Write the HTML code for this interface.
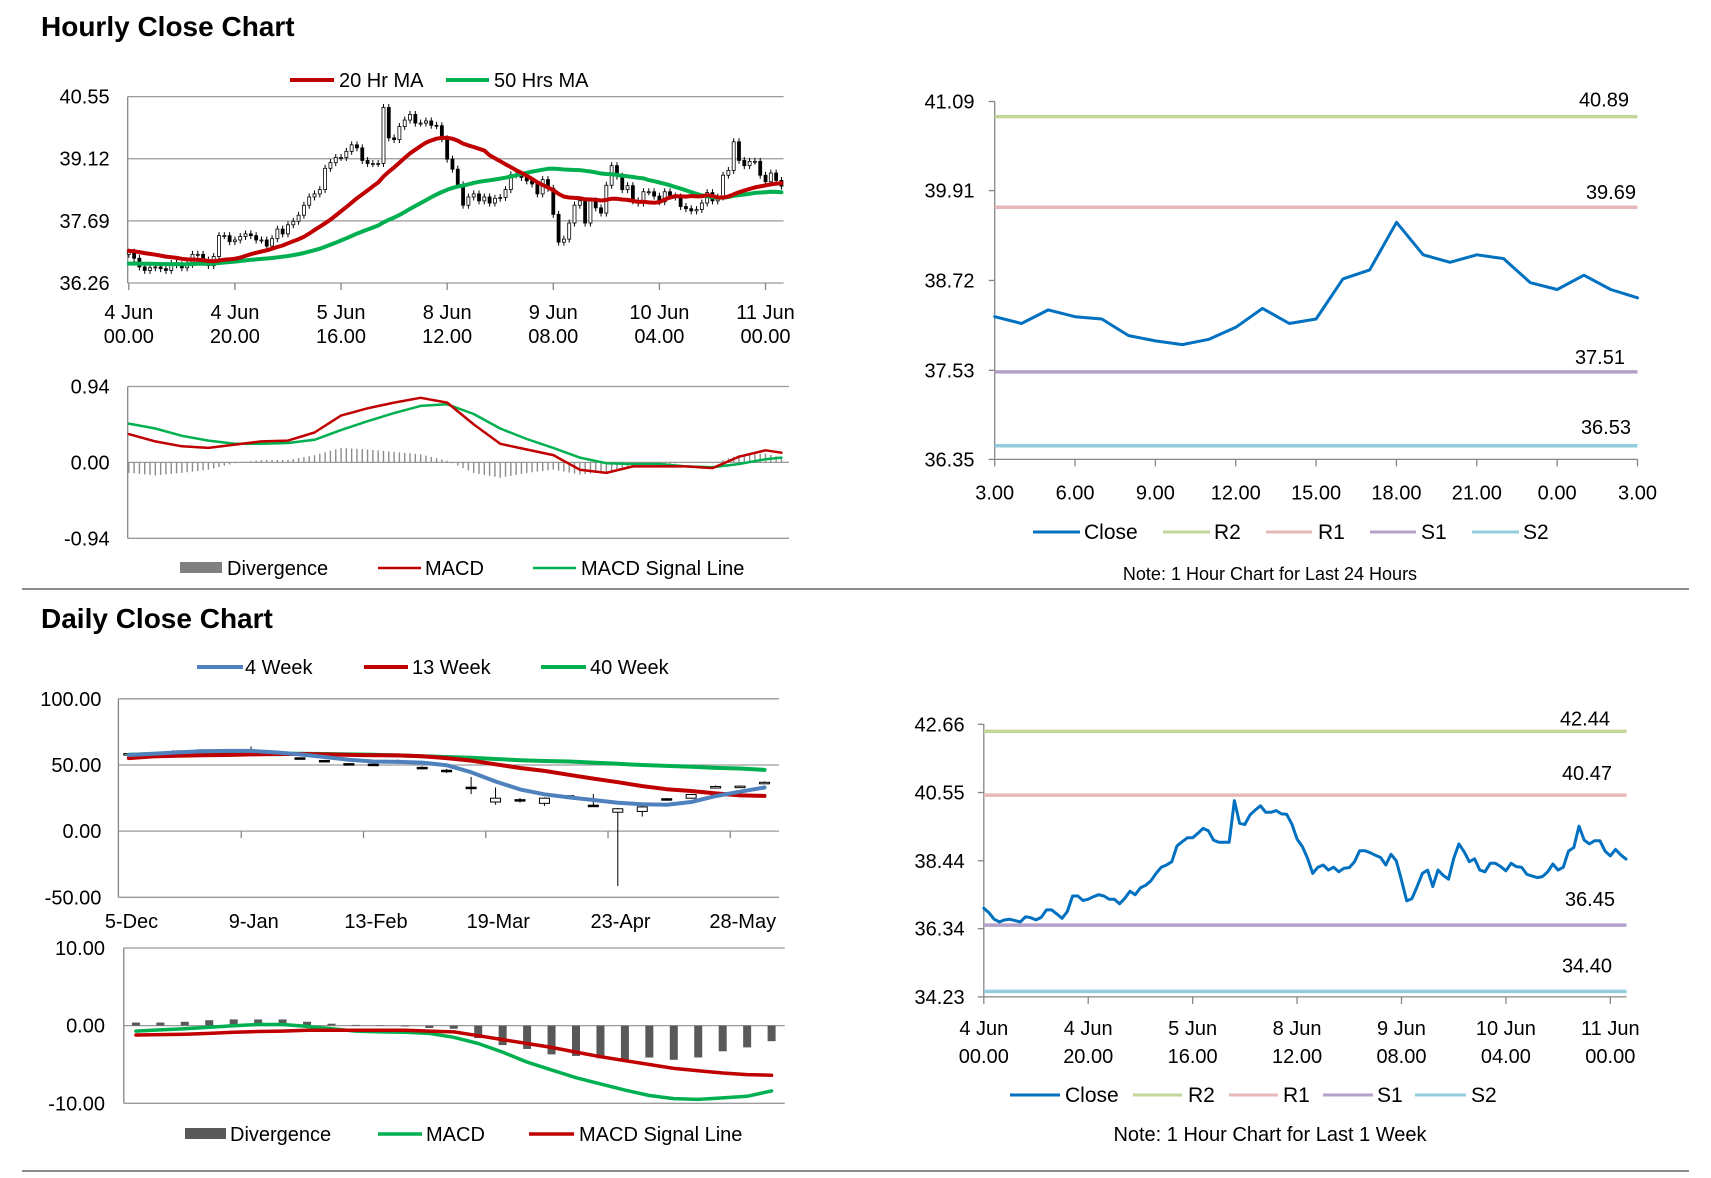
<!DOCTYPE html>
<html><head><meta charset="utf-8"><style>
html,body{margin:0;padding:0;background:#fff;}
svg{display:block;font-family:"Liberation Sans",Arial,sans-serif;}
text{fill:#000;}
</style></head><body>
<svg id="s" width="1711" height="1178" viewBox="0 0 1711 1178" xmlns="http://www.w3.org/2000/svg">
<text x="41" y="36" font-size="28" font-weight="bold">Hourly Close Chart</text>
<text x="41" y="628" font-size="28" font-weight="bold">Daily Close Chart</text>
<line x1="22" y1="589" x2="1689" y2="589" stroke="#8c8c8c" stroke-width="2"/>
<line x1="22" y1="1171" x2="1689" y2="1171" stroke="#8c8c8c" stroke-width="2"/>
</svg>
<script>
// ---------- DATA ----------
const hourCloses=[36.97,36.83,36.63,36.55,36.61,36.63,36.59,36.55,36.71,36.68,36.61,36.69,36.92,36.92,36.79,36.66,36.87,37.35,37.35,37.21,
37.25,37.33,37.39,37.35,37.25,37.25,37.11,37.28,37.50,37.39,37.60,37.68,37.82,38.05,38.24,38.31,38.41,38.90,39.03,39.15,
39.15,39.29,39.44,39.37,39.08,39.01,39.01,39.01,40.30,39.60,39.56,39.86,40.01,40.14,39.94,39.94,39.99,39.89,39.88,39.58,
39.11,38.88,38.52,38.05,38.24,38.31,38.15,38.24,38.10,38.21,38.23,38.41,38.75,38.75,38.69,38.61,38.54,38.31,38.64,38.44,
37.84,37.20,37.27,37.64,38.05,38.15,37.64,38.15,37.99,37.87,38.51,38.96,38.72,38.41,38.50,38.15,38.10,38.36,38.36,38.26,
38.13,38.36,38.26,38.24,38.02,37.97,37.92,37.95,38.10,38.34,38.15,38.24,38.74,38.85,39.51,39.08,38.96,39.06,39.06,38.74,
38.59,38.79,38.62,38.49];
const hourTickLabels=[["4 Jun","00.00"],["4 Jun","20.00"],["5 Jun","16.00"],["8 Jun","12.00"],["9 Jun","08.00"],["10 Jun","04.00"],["11 Jun","00.00"]];
const hourTickIdx=[0,20,40,60,80,100,120];
const hourYTicks=[40.55,39.12,37.69,36.26];
const prior20=37.0, prior50=36.7;
const macdHours=[0,5,10,15,20,25,30,35,40,45,50,55,60,65,70,75,80,85,90,95,100,105,110,115,120,123];
const macdVals=[0.35,0.26,0.20,0.18,0.22,0.26,0.27,0.37,0.58,0.67,0.74,0.80,0.74,0.47,0.23,0.16,0.09,-0.09,-0.13,-0.05,-0.05,-0.05,-0.07,0.07,0.15,0.12];
const signalVals=[0.48,0.42,0.33,0.27,0.23,0.23,0.24,0.28,0.40,0.51,0.61,0.70,0.72,0.60,0.42,0.29,0.18,0.06,-0.01,-0.02,-0.02,-0.05,-0.06,-0.02,0.04,0.06];
const macdYTicks=[0.94,0.00,-0.94];
const dayHours=["3.00","6.00","9.00","12.00","15.00","18.00","21.00","0.00","3.00"];
const last24=[38.24,38.15,38.33,38.24,38.21,37.99,37.92,37.87,37.94,38.10,38.35,38.15,38.21,38.74,38.86,39.49,39.06,38.96,39.06,39.01,38.69,38.60,38.79,38.60,38.49];
const levels24=[40.89,39.69,37.51,36.53];
const yTicks24=[41.09,39.91,38.72,37.53,36.35];
const levelsWeek=[42.44,40.47,36.45,34.40];
const yTicksWeek=[42.66,40.55,38.44,36.34,34.23];
const weekLabels=["5-Dec","9-Jan","13-Feb","19-Mar","23-Apr","28-May"];
const wOpen =[58.0,59.0,60.2,61.0,60.3,60.0,58.2,55.4,53.4,51.0,50.6,53.0,48.2,46.0,33.2,22.0,23.8,21.0,26.8,19.6,14.3,14.9,24.5,24.9,33.0,33.2,36.4];
const wClose=[58.6,59.4,60.6,61.4,60.0,59.6,58.0,54.9,52.9,50.6,50.3,53.4,47.7,45.7,32.6,24.9,23.4,24.9,26.3,19.1,16.9,18.3,24.0,27.7,33.7,34.0,36.9];
const wHigh =[59.0,59.8,61.0,61.8,61.0,64.0,58.6,55.8,53.8,51.4,51.0,54.0,49.0,47.0,41.0,33.0,25.0,25.5,27.0,28.0,17.5,19.0,25.0,28.2,34.6,34.6,37.6];
const wLow  =[58.0,58.8,60.0,60.8,59.6,59.0,57.6,54.4,52.4,50.2,49.8,52.8,46.6,44.0,28.0,20.0,21.5,19.0,25.6,18.6,-41.4,11.0,23.0,24.5,32.6,33.0,36.0];
const ma4 =[57.5,58.5,59.5,60.3,60.6,60.6,59.5,58,56,54,52.6,52.3,51.8,49.8,44.5,37.5,31.5,27.8,25.5,23.5,21.5,20.3,20,22,26.5,29.8,33];
const ma13=[55.2,56.5,57,57.3,57.5,58,58.3,58.3,58,57.6,57.4,57.2,56.6,55.2,53.3,50.5,47.7,45.5,42.6,39.7,37,34,31.7,30.3,28.5,27,26.6];
const ma40=[57.7,58.3,58.6,58.9,59,58.9,58.7,58.5,58.3,58,57.7,57.2,56.6,56,55.5,54.5,53.6,53,52.6,51.8,50.9,50,49.3,48.6,47.8,47.3,46.3];
const wYTicks=[100,50,0,-50];
const wDiv=[0.4,0.4,0.5,0.7,0.8,0.8,0.8,0.5,0.25,0.1,-0.05,-0.1,-0.3,-0.4,-1.6,-2.5,-3.0,-3.7,-3.9,-4.2,-4.6,-4.1,-4.4,-4.1,-3.3,-2.8,-2.0];
const wMacd=[-0.7,-0.55,-0.4,-0.2,0.0,0.15,0.15,-0.1,-0.4,-0.7,-0.8,-0.85,-1.0,-1.5,-2.3,-3.4,-4.7,-5.7,-6.7,-7.5,-8.3,-9.0,-9.4,-9.5,-9.3,-9.1,-8.4];
const wSignal=[-1.2,-1.15,-1.1,-1.0,-0.85,-0.75,-0.7,-0.6,-0.6,-0.6,-0.6,-0.6,-0.7,-0.8,-1.3,-1.8,-2.3,-2.8,-3.4,-4.0,-4.5,-5.0,-5.5,-5.8,-6.1,-6.3,-6.4];
const wMacdTicks=[10,0,-10];

// ---------- HELPERS ----------
const S=document.getElementById('s');const NS='http://www.w3.org/2000/svg';
function mk(tag,attrs,parent){const e=document.createElementNS(NS,tag);for(const k in attrs)e.setAttribute(k,attrs[k]);(parent||S).appendChild(e);return e;}
function txt(x,y,str,size,anchor,name){const t=mk('text',{x:x,y:y,'font-size':size,'text-anchor':anchor||'start'});t.textContent=str;


return t;}
function ln(x1,y1,x2,y2,col,w,name){const l=mk('line',{x1:x1,y1:y1,x2:x2,y2:y2,stroke:col,'stroke-width':w});


return l;}
function poly(pts,col,w,name){const p=mk('polyline',{points:pts.map(p=>p[0].toFixed(1)+','+p[1].toFixed(1)).join(' '),fill:'none',stroke:col,'stroke-width':w,'stroke-linejoin':'round','stroke-linecap':'round'});


return p;}
function lin(d0,d1,r0,r1){return v=>r0+(v-d0)/(d1-d0)*(r1-r0);}
function interp(xs,ys,x){for(let i=0;i<xs.length-1;i++){if(x<=xs[i+1]){const t=(x-xs[i])/(xs[i+1]-xs[i]);return ys[i]+t*(ys[i+1]-ys[i]);}}return ys[ys.length-1];}
const AX='#868686',GR='#9a9a9a',RED='#c00000',GRN='#00b050',BLU='#0070c0';
const R2C='#c3d69b',R1C='#e6b9b8',S1C='#b3a2c7',S2C='#93cddd';
function legLine(x1,x2,y,col,w,label,tx,size,name){ln(x1,y,x2,y,col,w,name+'-swatch');txt(tx,y+7,label,size,'start',name+'-label');}

// ---------- HOURLY CANDLE CHART ----------
(function(){
const xh=h=>128.8+5.306*h, y=lin(36.26,40.55,283,96.6);
hourYTicks.forEach(v=>{ln(127.7,y(v),783.6,y(v),GR,1.3,'gridline');txt(109.6,y(v)+7,v.toFixed(2),20,'end','y-tick-label');});
ln(127.7,96.6,127.7,283,AX,1.3,'y-axis');
hourTickIdx.forEach((h,i)=>{ln(xh(h),283,xh(h),290,AX,1.3,'x-tick');
txt(xh(h),319,hourTickLabels[i][0],20,'middle','x-tick-label');txt(xh(h),343,hourTickLabels[i][1],20,'middle','x-tick-label');});
const g=mk('g',{});
hourCloses.forEach((c,h)=>{const o=h>0?hourCloses[h-1]:c-0.05;const hi=Math.max(o,c)+0.08,lo=Math.min(o,c)-0.08;
const w=mk('line',{x1:xh(h),x2:xh(h),y1:y(hi),y2:y(lo),stroke:'#000','stroke-width':1},g);


const top=y(Math.max(o,c)),bh=Math.max(1,Math.abs(y(o)-y(c)));
const b=mk('rect',{x:xh(h)-1.5,y:top,width:3,height:bh,fill:c>=o?'#fff':'#000',stroke:'#000','stroke-width':0.8},g);

});
function ma(n,prior){return hourCloses.map((c,h)=>{let s=0;for(let k=h-n+1;k<=h;k++)s+=k>=0?hourCloses[k]:prior;return s/n;});}
poly(ma(50,prior50).map((v,h)=>[xh(h),y(v)]),GRN,4,'ma50-line');
poly(ma(20,prior20).map((v,h)=>[xh(h),y(v)]),RED,4,'ma20-line');
legLine(290,334,80,RED,4,'20 Hr MA',339,20,'legend-20hr-ma');
legLine(446,489,80,GRN,4,'50 Hrs MA',494,20,'legend-50hr-ma');
})();

// ---------- HOURLY MACD ----------
(function(){
const xh=h=>128.8+5.306*h, y=lin(-0.94,0.94,538.3,386.5);
macdYTicks.forEach(v=>{ln(127.7,y(v),789,y(v),GR,1.3,'gridline');txt(109.6,y(v)+7,v.toFixed(2),20,'end','y-tick-label');});
ln(127.7,386.5,127.7,538.3,AX,1.3,'y-axis');
for(let h=0;h<=123;h++){const d=interp(macdHours,macdVals,h)-interp(macdHours,signalVals,h);
ln(xh(h),y(0),xh(h),y(d),'#8c8c8c',1.4,'divergence-bar');}
poly(macdHours.map((h,i)=>[xh(h),y(signalVals[i])]),GRN,2.5,'macd-signal-line');
poly(macdHours.map((h,i)=>[xh(h),y(macdVals[i])]),RED,2.5,'macd-line');
const r=mk('rect',{x:180,y:562,width:42,height:11,fill:'#808080'});
txt(227,575,'Divergence',20,'start','legend-divergence-label');
legLine(378,421,568,RED,2.5,'MACD',425,20,'legend-macd');
legLine(533,576,568,GRN,2.5,'MACD Signal Line',581,20,'legend-macd-signal');
})();

// ---------- LEVEL CHARTS ----------
function levelChart(o){
const x0=o.x0,x1=o.x1,y=lin(o.yt[o.yt.length-1],o.yt[0],o.yb,o.ytop);
ln(x0,o.ytop,x0,o.yb,AX,1.3,'y-axis');ln(x0,o.yb,x1,o.yb,AX,1.3,'x-axis');
o.yt.forEach(v=>{ln(x0-6,y(v),x0,y(v),AX,1.3,'y-tick');txt(o.ylx,y(v)+7,v.toFixed(2),20,'end','y-tick-label');});
o.xt.forEach((lab,i)=>{const xx=x0+(x1-x0)*o.xtIdx[i]/o.n;ln(xx,o.yb,xx,o.yb+7,AX,1.3,'x-tick');
if(Array.isArray(lab)){txt(xx,o.yb+38,lab[0],20,'middle','x-tick-label');txt(xx,o.yb+66,lab[1],20,'middle','x-tick-label');}
else txt(xx,o.yb+40,lab,20,'middle','x-tick-label');});
const cols=[R2C,R1C,S1C,S2C],nm=['r2','r1','s1','s2'];
o.lv.forEach((v,i)=>{ln(x0,y(v),x1,y(v),cols[i],3.5,'level-'+nm[i]+'-line');txt(o.lx[i],y(v)-o.ld[i],v.toFixed(2),20,'end','level-'+nm[i]+'-label');});
poly(o.data.map((v,i)=>[x0+(x1-x0)*i/o.n,y(v)]),BLU,3,'close-line');
const labs=['Close','R2','R1','S1','S2'],lc=[BLU,R2C,R1C,S1C,S2C];
o.leg.forEach((L,i)=>legLine(L[0],L[1],o.legY,lc[i],3,labs[i],L[2],21,'legend-'+labs[i].toLowerCase()));
txt(o.noteX,o.noteY,o.note,o.noteSize,'middle','chart-note');}
levelChart({x0:994.7,x1:1637.5,ytop:101.5,yb:459.4,yt:yTicks24,ylx:974.5,n:24,
xt:dayHours,xtIdx:[0,3,6,9,12,15,18,21,24],lv:levels24,lx:[1629,1636,1625,1631],ld:[10,8,8,12],data:last24,
leg:[[1033,1080,1084],[1163,1210,1214],[1266,1312,1318],[1370,1416,1421],[1472,1519,1523]],legY:532,note:'Note: 1 Hour Chart for Last 24 Hours',noteX:1270,noteY:580,noteSize:18});
levelChart({x0:983.8,x1:1626.5,ytop:724.3,yb:996.9,yt:yTicksWeek,ylx:964.6,n:123.1,
xt:hourTickLabels,xtIdx:[0,20,40,60,80,100,120],lv:levelsWeek,lx:[1610,1612,1615,1612],ld:[6,15,19,19],data:hourCloses,
leg:[[1010,1060,1065],[1133,1182,1188],[1229,1278,1283],[1323,1373,1377],[1415,1466,1471]],legY:1095,note:'Note: 1 Hour Chart for Last 1 Week',noteX:1270,noteY:1141,noteSize:20});

// ---------- WEEKLY CHART ----------
(function(){
const xw=i=>128.8+24.45*i, y=lin(-50,100,897.3,698.8);
wYTicks.forEach(v=>{ln(118.4,y(v),779,y(v),GR,1.3,'gridline');txt(101.4,y(v)+7,v.toFixed(2),20,'end','y-tick-label');});
ln(118.4,698.8,118.4,897.3,AX,1.3,'y-axis');
for(let k=0;k<5;k++){const tx=xw(4.6+5*k);ln(tx,y(0),tx,y(0)+7,AX,1.3,'x-tick');}
weekLabels.forEach((l,k)=>txt(xw(5*k)+2.7,928,l,20,'middle','x-tick-label'));
wClose.forEach((c,i)=>{const o=wOpen[i];ln(xw(i),y(wHigh[i]),xw(i),y(wLow[i]),'#000',1,'weekly-candle-wick');
const r=mk('rect',{x:xw(i)-5,y:y(Math.max(o,c)),width:10,height:Math.max(1.5,Math.abs(y(o)-y(c))),fill:c>=o?'#fff':'#000',stroke:'#000','stroke-width':1});

});
poly(ma40.map((v,i)=>[xw(i),y(v)]),GRN,4,'ma40-week-line');
poly(ma13.map((v,i)=>[xw(i),y(v)]),RED,4,'ma13-week-line');
poly(ma4.map((v,i)=>[xw(i),y(v)]),'#4f81bd',4,'ma4-week-line');
legLine(197,243,667,'#4f81bd',4,'4 Week',245,20,'legend-4-week');
legLine(364,408,667,RED,4,'13 Week',412,20,'legend-13-week');
legLine(541,586,667,GRN,4,'40 Week',590,20,'legend-40-week');
})();

// ---------- WEEKLY MACD ----------
(function(){
const xw=i=>135.9+24.45*i, y=lin(-10,10,1103.3,948);
wMacdTicks.forEach(v=>{ln(123.8,y(v),784.7,y(v),GR,1.3,'gridline');txt(105,y(v)+7,v.toFixed(2),20,'end','y-tick-label');});
ln(123.8,948,123.8,1103.3,AX,1.3,'y-axis');
wDiv.forEach((d,i)=>{const r=mk('rect',{x:xw(i)-4,y:Math.min(y(0),y(d)),width:8,height:Math.abs(y(d)-y(0)),fill:'#595959'});

});
poly(wMacd.map((v,i)=>[xw(i),y(v)]),GRN,3.5,'weekly-macd-line');
poly(wSignal.map((v,i)=>[xw(i),y(v)]),RED,3.5,'weekly-signal-line');
const r=mk('rect',{x:185,y:1128,width:41,height:11,fill:'#595959'});
txt(230,1141,'Divergence',20,'start','legend-divergence-label');
legLine(378,422,1134,GRN,3.5,'MACD',426,20,'legend-macd');
legLine(529,574,1134,RED,3.5,'MACD Signal Line',579,20,'legend-macd-signal');
})();
</script>
</body></html>
